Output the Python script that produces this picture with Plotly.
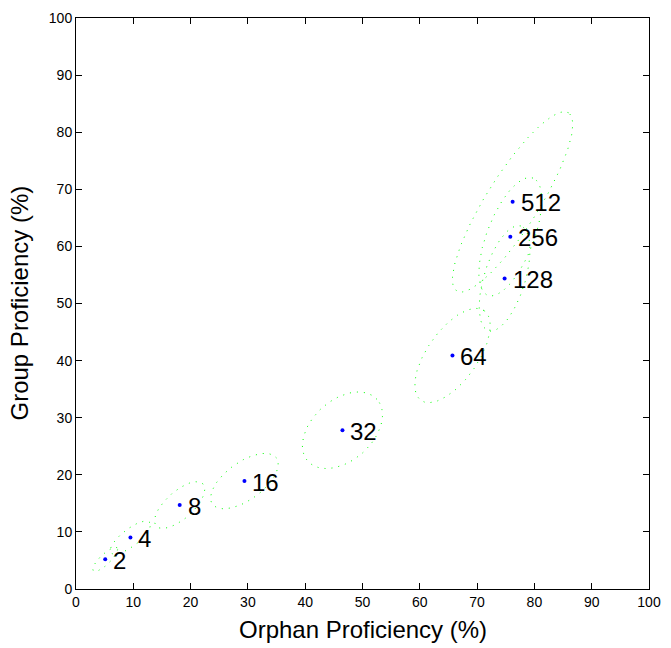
import numpy as np
import plotly.graph_objects as go

# Data
labels = ["2", "4", "8", "16", "32", "64", "128", "256", "512"]
orphan = [5.1, 9.5, 18.1, 29.4, 46.5, 65.7, 74.8, 75.8, 76.2]
group = [5.2, 9.0, 14.7, 18.9, 27.8, 40.9, 54.4, 61.7, 67.8]
# Ellipse semi-axes (data units) and orientation (degrees)
ell_a = [2.9, 4.3, 5.5, 6.9, 8.1, 9.6, 9.6, 11.0, 18.4]
ell_b = [0.9, 1.5, 2.4, 3.3, 5.3, 4.4, 3.6, 4.1, 4.6]
ell_ang = [44, 38, 42, 36, 42, 55, 73, 69, 58]

ticks = list(range(0, 101, 10))

fig = go.Figure()

t = np.linspace(0, 2 * np.pi, 200)
for cx, cy, a, b, ang in zip(orphan, group, ell_a, ell_b, ell_ang):
    th = np.deg2rad(ang)
    ex = cx + a * np.cos(t) * np.cos(th) - b * np.sin(t) * np.sin(th)
    ey = cy + a * np.cos(t) * np.sin(th) + b * np.sin(t) * np.cos(th)
    fig.add_trace(go.Scatter(x=ex, y=ey, mode="lines",
                             line=dict(color="#00ff00", width=1, dash="1px,6px"),
                             hoverinfo="skip", showlegend=False))

fig.add_trace(go.Scatter(x=orphan, y=group, mode="markers",
                         marker=dict(color="#0000ff", size=4),
                         showlegend=False))

for lab, x, y in zip(labels, orphan, group):
    fig.add_annotation(x=x, y=y, text=lab, showarrow=False, xanchor="left",
                       yanchor="middle", xshift=6, yshift=-1,
                       font=dict(family="Liberation Sans, Arial", size=24, color="black"))

axis_common = dict(range=[0, 100], tickvals=ticks, ticks="inside", ticklen=6,
                   tickcolor="black", showline=True, linecolor="black", linewidth=1,
                   mirror="ticks", showgrid=False, zeroline=False,
                   tickfont=dict(family="Liberation Sans, Arial", size=14, color="black"))

fig.update_xaxes(**axis_common)
fig.update_yaxes(**axis_common)

fig.add_annotation(xref="paper", yref="paper", x=0.5, y=0, yshift=-40,
                   text="Orphan Proficiency (%)", showarrow=False,
                   xanchor="center", yanchor="middle",
                   font=dict(family="Liberation Sans, Arial", size=24, color="black"))
fig.add_annotation(xref="paper", yref="paper", x=0, y=0.5, xshift=-57,
                   text="Group Proficiency (%)", showarrow=False, textangle=-90,
                   xanchor="center", yanchor="middle",
                   font=dict(family="Liberation Sans, Arial", size=24, color="black"))

fig.update_layout(width=671, height=648, margin=dict(l=76, r=15, t=10, b=59),
                  plot_bgcolor="white", paper_bgcolor="white")

fig.write_html("out.html")
